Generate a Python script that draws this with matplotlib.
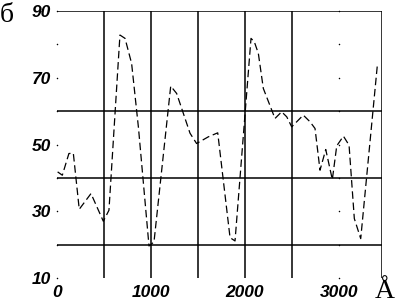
import matplotlib
matplotlib.use("Agg")
import matplotlib.pyplot as plt

# curve (wavelength in Å, value)
wl = [10, 60, 130, 177, 240, 365, 496, 556, 673, 727, 797, 870, 982, 1035,
      1213, 1276, 1418, 1488, 1613, 1713, 1844, 1897, 2067, 2102, 2145, 2198,
      2322, 2393, 2447, 2500, 2623, 2695, 2748, 2801, 2862, 2932, 2979, 3050,
      3110, 3166, 3234, 3411]
val = [41.8, 40.8, 47.3, 47.4, 30.6, 35.3, 27.0, 30.3, 82.8, 81.8, 74.3, 55.0,
       19.6, 20.8, 67.5, 65.3, 53.4, 50.3, 52.3, 53.5, 22.1, 21.1, 81.8, 80.8,
       77.3, 66.8, 57.8, 59.8, 58.3, 55.3, 58.8, 56.8, 54.8, 42.3, 48.5, 39.5,
       49.6, 52.5, 49.8, 27.8, 21.8, 73.8]

xmax = 3460
h_grid = [20, 40, 60, 90]
v_grid = [500, 1000, 1500, 2000, 2500, xmax]
dot_cols = [0, 3000]
dot_rows = [10, 20, 30, 40, 50, 60, 70, 80, 90]
yticks = [10, 30, 50, 70, 90]
xticks = [0, 1000, 2000, 3000]

fig = plt.figure(figsize=(3.95, 3.04), dpi=100)
ax = fig.add_axes([0.1435, 0.0855, 0.967 - 0.1435, 0.9638 - 0.0855])
ax.set_xlim(0, xmax)
ax.set_ylim(10, 90)
for s in ax.spines.values():
    s.set_visible(False)

ax.hlines(h_grid, 0, xmax, color="black", lw=1.1)
ax.vlines(v_grid, 10, 90, color="black", lw=1.1)
for c in dot_cols:
    ax.scatter([c] * len(dot_rows), dot_rows, s=1.2, color="black", lw=0, clip_on=False)

ax.plot(wl, val, color="black", lw=0.9, linestyle=(0, (6, 3)))

tick_font = dict(family="Liberation Sans", weight="bold", style="italic", size=12.5)
ax.set_yticks(yticks)
ax.set_yticklabels([str(t) for t in yticks], fontdict=tick_font)
ax.set_xticks(xticks)
ax.set_xticklabels([str(t) for t in xticks], fontdict=tick_font)
ax.tick_params(axis="both", length=0)
ax.tick_params(axis="y", pad=4)
ax.tick_params(axis="x", pad=5)

fig.text(0.0, 0.99, "б", family="Liberation Serif", size=20, va="top", ha="left")
fig.text(1.0, 0.0, "Å", family="Liberation Serif", size=20, va="bottom", ha="right")

fig.savefig("out.png", dpi=100)
